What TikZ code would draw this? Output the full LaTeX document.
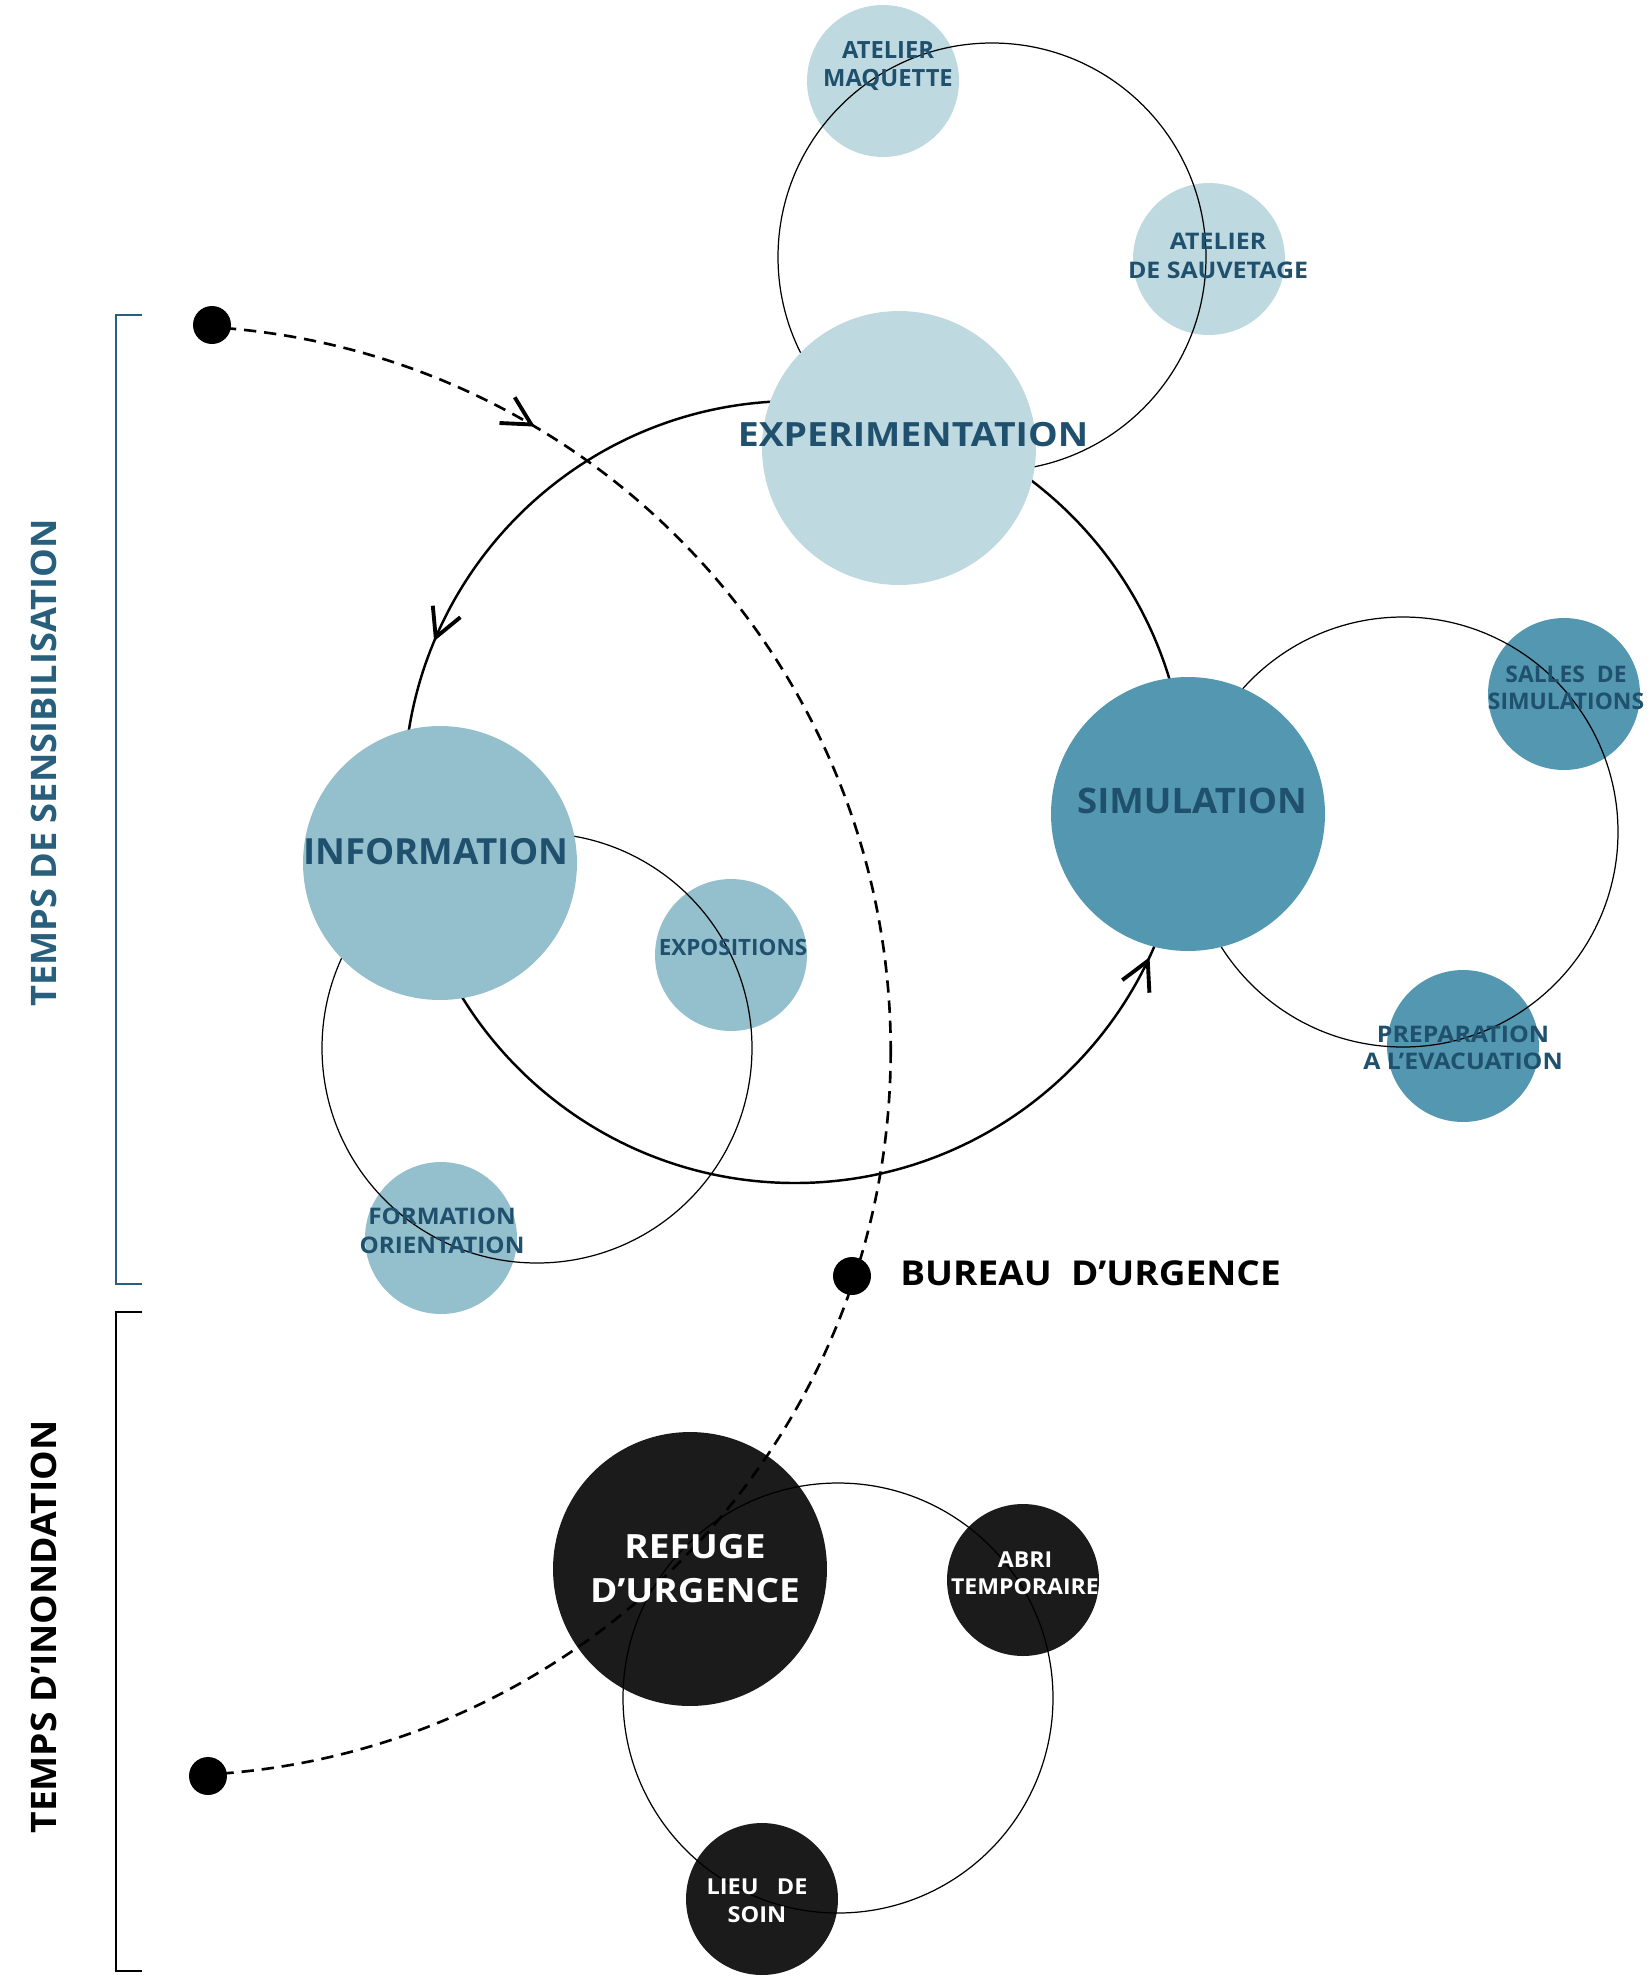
\documentclass[tikz,border=0pt]{standalone}
\usepackage{fontspec}
\usepackage{graphicx}
\setmainfont{Open Sans}
\usetikzlibrary{arrows.meta,decorations.markings}
\definecolor{cLight}{RGB}{190,217,224}
\definecolor{cMid}{RGB}{148,191,204}
\definecolor{cSim}{RGB}{84,151,176}
\definecolor{cBlack}{RGB}{27,27,27}
\definecolor{cText}{RGB}{31,80,110}
\definecolor{cBracket}{RGB}{40,95,125}
\tikzset{
  bigdisc/.style={circle, inner sep=0pt, minimum size=5.48cm},
  smalldisc/.style={circle, inner sep=0pt, minimum size=3.04cm},
  orbit/.style={draw=black, line width=0.7pt},
  loopline/.style={draw=black, line width=1.4pt},
  dashline/.style={draw=black, line width=1.5pt, dash pattern=on 7pt off 4.5pt},
  blackdot/.style={circle, fill=black, inner sep=0pt, minimum size=0.76cm},
  lbl/.style={align=center, inner sep=0pt, text=cText},
  wlbl/.style={align=center, inner sep=0pt, text=white},
  bracketline/.style={line width=1.3pt},
  chev/.tip={Straight Barb[length=16pt,width=17pt,line width=2.2pt]},
}
\newcommand{\fs}[2]{\bfseries\fontsize{#1}{#2}\selectfont}
\newcommand{\sx}[2]{\scalebox{#1}[1]{#2}}
\begin{document}
\begin{tikzpicture}[x=0.02cm,y=-0.02cm]
\useasboundingbox (0,0) rectangle (1651,1978);
\fill[white] (0,0) rectangle (1651,1978);

% small discs
\node[smalldisc, fill=cLight] (maqC) at (883,81) {};
\node[smalldisc, fill=cLight] (sauvC) at (1209,259) {};
\node[smalldisc, fill=cSim] (sallC) at (1564,694) {};
\node[smalldisc, fill=cSim] (prepC) at (1463,1046) {};
\node[smalldisc, fill=cMid] (expoC) at (731,955) {};
\node[smalldisc, fill=cMid] (formC) at (441,1238) {};
\node[smalldisc, fill=cBlack] (abriC) at (1023,1580) {};
\node[smalldisc, fill=cBlack] (lieuC) at (762,1899) {};

% orbits
\draw[orbit] (992,257) circle[radius=214];
\draw[orbit] (1403,832) circle[radius=215];
\draw[orbit] (537,1048) circle[radius=215];

% main loop
\draw[loopline, postaction={decorate}, decoration={markings,
  mark=at position 0.0694 with {\arrowreversed{chev}},
  mark=at position 0.563 with {\arrowreversed{chev}}}]
  (795,792) circle[radius=391];

% big discs
\node[bigdisc, fill=cLight] (expC) at (899,448) {};
\node[bigdisc, fill=cSim] (simC) at (1188,814) {};
\node[bigdisc, fill=cMid] (infoC) at (440,863) {};
\node[bigdisc, fill=cBlack] (refC) at (690,1569) {};
\draw[orbit] (838,1698) circle[radius=215];

% dashed path
\begin{scope}
\clip (210,0) rectangle (1651,1978);
\draw[dashline, postaction={decorate}, decoration={markings,
  mark=at position 0.835 with {\arrow{chev}}}]
  (165.7,1050.7) circle[radius=725];
\end{scope}
\node[blackdot] (dTop) at (212,325) {};
\node[blackdot] (dBur) at (852,1276) {};
\node[blackdot] (dBot) at (208,1776) {};

% labels
\node[lbl, font=\fs{13.5}{15.9}] (maqT) at (888,66) {ATELIER\\MAQUETTE};
\node[lbl, font=\fs{13}{16.4}] (sauvT) at (1218,256) {\sx{1.09}{ATELIER}\\\sx{1.09}{DE SAUVETAGE}};
\node[lbl, font=\fs{19}{22}] (expT) at (913,435) {\sx{1.12}{EXPERIMENTATION}};
\node[lbl, font=\fs{20}{24}] (simT) at (1192,801) {\sx{1.04}{SIMULATION}};
\node[lbl, font=\fs{13}{15.3}] (sallT) at (1566,688) {SALLES\ \ DE\\SIMULATIONS};
\node[lbl, font=\fs{13}{15.3}] (prepT) at (1463,1048) {\sx{1.09}{PREPARATION}\\\sx{1.09}{A L’EVACUATION}};
\node[lbl, font=\fs{20.5}{24}] (infoT) at (436,852) {\sx{1.02}{INFORMATION}};
\node[lbl, font=\fs{12.8}{15}] (expoT) at (733,947) {EXPOSITIONS};
\node[lbl, font=\fs{13}{16.4}] (formT) at (442,1231) {\sx{1.06}{FORMATION}\\\sx{1.06}{ORIENTATION}};
\node[wlbl, font=\fs{19}{25}] (refT) at (695,1569) {\sx{1.11}{REFUGE}\\\sx{1.11}{D’URGENCE}};
\node[wlbl, font=\fs{12.5}{15.3}] (abriT) at (1025,1573) {\sx{1.05}{ABRI}\\\sx{1.05}{TEMPORAIRE}};
\node[wlbl, font=\fs{12.5}{15.9}] (lieuT) at (757,1901) {\sx{1.07}{LIEU\ \ \ DE}\\\sx{1.07}{SOIN}};
\node[anchor=west, inner sep=0pt, font=\fs{19.5}{22}] (burT) at (900,1273) {\sx{1.08}{BUREAU\ \ D’URGENCE}};

% brackets
\draw[bracketline, draw=cBracket] (142,315) -- (116,315) -- (116,1284) -- (142,1284);
\draw[bracketline, draw=black] (142,1312) -- (116,1312) -- (116,1971) -- (142,1971);
\node[rotate=90, inner sep=0pt, text=cBracket, font=\fs{20}{24}] (sensT) at (44,763) {\sx{1.03}{TEMPS DE SENSIBILISATION}};
\node[rotate=90, inner sep=0pt, text=black, font=\fs{20}{24}] (inonT) at (44,1627) {\sx{1.06}{TEMPS D’INONDATION}};
\end{tikzpicture}
\end{document}
